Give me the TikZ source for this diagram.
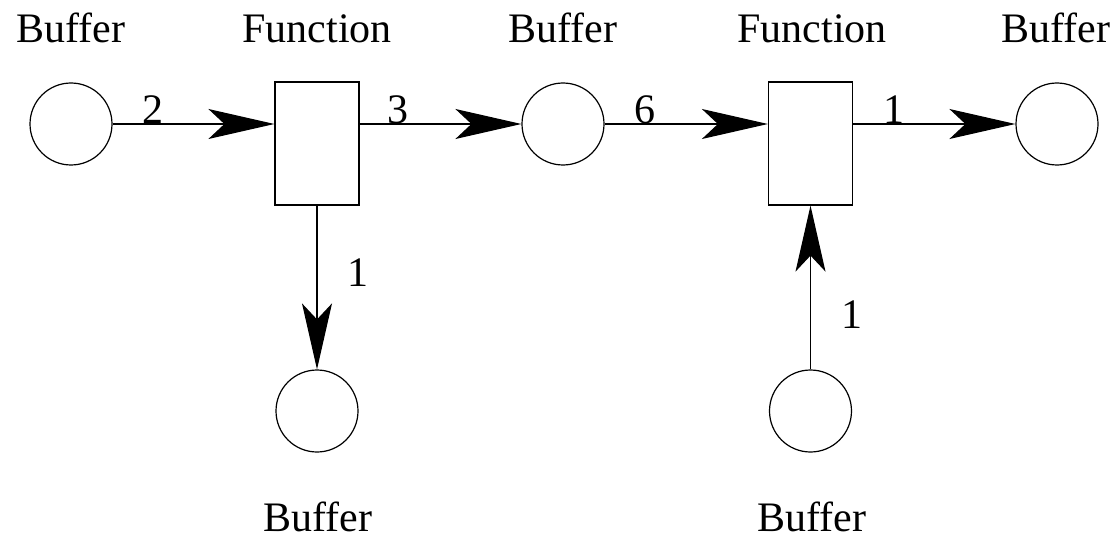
\documentclass[tikz,border=0pt]{standalone}
\usepackage{fontspec}
\setmainfont{Liberation Serif}
\usetikzlibrary{arrows.meta}
\begin{document}
\begin{tikzpicture}[x=0.5pt,y=-0.5pt,
  buffer/.style={circle,draw,line width=0.6pt,minimum size=41pt,inner sep=0pt},
  func/.style={rectangle,draw,line width=0.6pt,minimum width=42pt,minimum height=61.5pt,inner sep=0pt},
  lbl/.style={font=\fontsize{21}{25}\selectfont,inner sep=0pt,anchor=base},
  num/.style={font=\fontsize{21}{25}\selectfont,inner sep=0pt},
  flow/.style={line width=0.6pt,-{Stealth[length=33pt,width=15pt,inset=8pt]}}]
\useasboundingbox[fill=white] (0,0) rectangle (1119,540);
% places and transitions
\node[buffer] (b1) at (71,124) {};
\node[func]   (f1) at (317,143.5) {};
\node[buffer] (b2) at (563,124) {};
\node[func]   (f2) at (810.5,143.5) {};
\node[buffer] (b3) at (1057,124) {};
\node[buffer] (b4) at (317,411) {};
\node[buffer] (b5) at (810.5,411) {};
% titles
\node[lbl] (t1) at (71,43) {Buffer};
\node[lbl] (t2) at (317,43) {Function};
\node[lbl] (t3) at (563,43) {Buffer};
\node[lbl] (t4) at (812,43) {Function};
\node[lbl] (t5) at (1056,43) {Buffer};
\node[lbl] (t6) at (318,531) {Buffer};
\node[lbl] (t7) at (812,531) {Buffer};
% connectors
\draw[flow] (b1.east) -- node[lbl,pos=0.25] (n1) {2} (b1.east -| f1.west);
\draw[flow] (b2.west -| f1.east) -- node[lbl,pos=0.24] (n2) {3} (b2.west);
\draw[flow] (b2.east) -- node[lbl,pos=0.25] (n3) {6} (b2.east -| f2.west);
\draw[flow] (b3.west -| f2.east) -- node[lbl,pos=0.25] (n4) {1} (b3.west);
\draw[flow] (f1.south) -- (b4.north);
\draw[flow] (b5.north) -- (f2.south);
\node[num] (n5) at (358,273) {1};
\node[num] (n6) at (852,315) {1};
\end{tikzpicture}
\end{document}
